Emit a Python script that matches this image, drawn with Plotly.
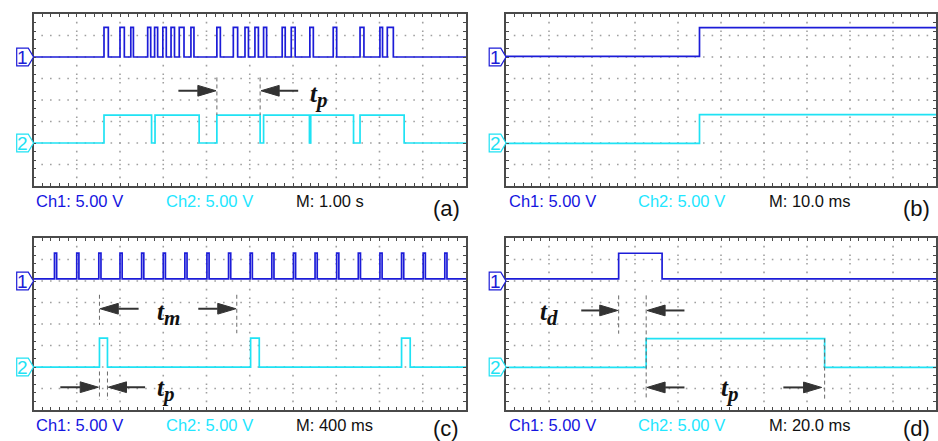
import numpy as np
import plotly.graph_objects as go

# ---------------- data (screen divisions: time 0..10, vertical 0..8) ----------------
A_CH1_PULSES = [(1.63, 1.73), (2.00, 2.10), (2.25, 2.31), (2.64, 2.71), (2.80, 2.87),
                (2.99, 3.07), (3.18, 3.26), (3.37, 3.48), (3.64, 3.71), (4.24, 4.32),
                (4.62, 4.72), (4.89, 4.97), (5.12, 5.20), (5.32, 5.39), (5.75, 5.82),
                (5.96, 6.05), (6.39, 6.47), (6.93, 7.01), (7.55, 7.64), (8.01, 8.07),
                (8.18, 8.32)]
A_CH2_PULSES = [(1.63, 2.73), (2.81, 3.83), (4.24, 5.24), (5.32, 6.38), (6.41, 7.40),
                (7.55, 8.57)]
B_CH1_PULSES = [(4.50, 10.0)]
B_CH2_PULSES = [(4.50, 10.0)]
C_CH1_PULSES = [(0.485, 0.535), (1.00, 1.05), (1.51, 1.56), (2.00, 2.05), (2.50, 2.55),
                (3.00, 3.05), (3.50, 3.55), (4.01, 4.06), (4.51, 4.56), (5.01, 5.06),
                (5.51, 5.56), (6.01, 6.06), (6.51, 6.56), (7.01, 7.06), (7.51, 7.56),
                (8.01, 8.06), (8.51, 8.56), (9.01, 9.06), (9.51, 9.56)]
C_CH2_PULSES = [(1.525, 1.71), (5.02, 5.22), (8.51, 8.71)]
D_CH1_PULSES = [(2.62, 3.63)]
D_CH2_PULSES = [(3.26, 7.41)]

CH1_LOW = [6.00, 6.03, 6.10, 6.10]
CH1_HIGH = [7.38, 7.37, 7.30, 7.29]
CH2_LOW = [2.00, 1.98, 1.99, 1.98]
CH2_HIGH = [3.30, 3.32, 3.34, 3.32]

PANEL_TAGS = ["(a)", "(b)", "(c)", "(d)"]
CH1_TEXT = "Ch1: 5.00 V"
CH2_TEXT = "Ch2: 5.00 V"
TIMEBASE = ["M: 1.00 s", "M: 10.0 ms", "M: 400 ms", "M: 20.0 ms"]

# ---------------- layout geometry (pixels) ----------------
W, H = 938, 441
COLS = [(33.5, 466.0), (506.0, 936.0)]
ROWS = [(14.0, 186.0), (238.0, 410.0)]
PANELS = [(0, 0), (1, 0), (0, 1), (1, 1)]  # (col,row)

BLUE = "#1c1cd8"
CYAN = "#1fe2f4"
BLUE_TXT = "#1515e0"
CYAN_TXT = "#22e6ff"
FRAME = "#4a4a4a"


def px(x):
    return x / W


def py(y):
    return 1 - y / H


def step(pulses, low, high):
    xs, ys = [0.0], [low]
    for r, f in pulses:
        if f >= 10:
            xs += [r, r, 10.0]
            ys += [low, high, high]
            return xs, ys
        xs += [r, r, f, f]
        ys += [low, high, high, low]
    xs.append(10.0)
    ys.append(low)
    return xs, ys


fig = go.Figure()
shapes = []
annotations = []

CH1_ALL = [A_CH1_PULSES, B_CH1_PULSES, C_CH1_PULSES, D_CH1_PULSES]
CH2_ALL = [A_CH2_PULSES, B_CH2_PULSES, C_CH2_PULSES, D_CH2_PULSES]

# grid dots
gx, gy = [], []
for v in range(1, 10):
    for yy in np.arange(0.4, 8.0, 0.4):
        gx.append(v)
        gy.append(round(yy, 3))
for hz in range(1, 8):
    for xx in np.arange(0.2, 10.0, 0.2):
        gx.append(round(xx, 3))
        gy.append(hz)

for i, (c, r) in enumerate(PANELS):
    n = "" if i == 0 else str(i + 1)
    xa, ya = "x" + n, "y" + n
    x0p, x1p = COLS[c]
    y0p, y1p = ROWS[r]
    fig.update_layout({
        "xaxis" + n: dict(domain=[px(x0p), px(x1p)], range=[0, 10], anchor=ya,
                          showgrid=False, zeroline=False, showticklabels=False,
                          showline=True, mirror="ticks", linecolor=FRAME, linewidth=1.5,
                          ticks="inside", dtick=0.2, tick0=0, ticklen=3, tickwidth=1,
                          tickcolor=FRAME),
        "yaxis" + n: dict(domain=[py(y1p), py(y0p)], range=[0, 8], anchor=xa,
                          showgrid=False, zeroline=False, showticklabels=False,
                          showline=True, mirror="ticks", linecolor=FRAME, linewidth=1.5,
                          ticks="inside", dtick=0.4, tick0=0, ticklen=3, tickwidth=1,
                          tickcolor=FRAME),
    })
    fig.add_trace(go.Scatter(x=gx, y=gy, mode="markers", xaxis=xa, yaxis=ya,
                             marker=dict(size=1.6, color="#a0a0a0", symbol="square"),
                             hoverinfo="skip", showlegend=False))
    x1, y1 = step(CH1_ALL[i], CH1_LOW[i], CH1_HIGH[i])
    x2, y2 = step(CH2_ALL[i], CH2_LOW[i], CH2_HIGH[i])
    fig.add_trace(go.Scatter(x=x1, y=y1, mode="lines", xaxis=xa, yaxis=ya,
                             line=dict(color=BLUE, width=1.7), showlegend=False))
    fig.add_trace(go.Scatter(x=x2, y=y2, mode="lines", xaxis=xa, yaxis=ya,
                             line=dict(color=CYAN, width=1.7), showlegend=False))

    # channel markers
    for lvl, col, num in [(6.0, BLUE, "1"), (2.0, CYAN, "2")]:
        yb = y0p + (8 - lvl) / 8 * (y1p - y0p)
        L, M, T = x0p - 16.8, x0p - 5.2, x0p
        path = (f"M {px(L)} {py(yb-8.8)} L {px(M)} {py(yb-8.8)} L {px(T)} {py(yb)} "
                f"L {px(M)} {py(yb+8.8)} L {px(L)} {py(yb+8.8)} Z")
        shapes.append(dict(type="path", xref="paper", yref="paper", path=path,
                           line=dict(color=col, width=1.2), fillcolor="white"))
        annotations.append(dict(xref="paper", yref="paper", x=px(L + 5.9), y=py(yb + 0.5),
                                text=num, showarrow=False, xanchor="center", yanchor="middle",
                                font=dict(family="Liberation Sans, Arial", size=19, color=col)))

    # bottom labels
    ty = y1p + 14.5
    fnt = "Liberation Sans, Arial"
    annotations.append(dict(xref="paper", yref="paper", x=px(x0p + 0.5), y=py(ty), text=CH1_TEXT,
                            showarrow=False, xanchor="left", yanchor="middle",
                            font=dict(family=fnt, size=16.5, color=BLUE_TXT)))
    annotations.append(dict(xref="paper", yref="paper", x=px(x0p + 130), y=py(ty), text=CH2_TEXT,
                            showarrow=False, xanchor="left", yanchor="middle",
                            font=dict(family=fnt, size=16.5, color=CYAN_TXT)))
    annotations.append(dict(xref="paper", yref="paper", x=px(x0p + 260.5), y=py(ty), text=TIMEBASE[i],
                            showarrow=False, xanchor="left", yanchor="middle",
                            font=dict(family=fnt, size=16.5, color="#111111")))
    annotations.append(dict(xref="paper", yref="paper", x=px(x1p - 20), y=py(min(ty + 8, 428.5)),
                            text=PANEL_TAGS[i],
                            showarrow=False, xanchor="center", yanchor="middle",
                            font=dict(family=fnt, size=22, color="#111111")))

# ---------------- measurement markers ----------------
DASH = dict(color="#6a6a6a", width=1, dash="4px,3px")


def vdash(i, x, ya_, yb_):
    n = "" if i == 0 else str(i + 1)
    shapes.append(dict(type="line", xref="x" + n, yref="y" + n, x0=x, x1=x, y0=ya_, y1=yb_, line=DASH))


def arrow(i, xt, xh, y):
    n = "" if i == 0 else str(i + 1)
    s = 1 if xh > xt else -1
    hl, hh = 0.42, 0.25
    base = xh - s * hl
    shapes.append(dict(type="line", xref="x" + n, yref="y" + n, x0=xt, x1=base, y0=y, y1=y,
                       line=dict(color="#333333", width=2)))
    shapes.append(dict(type="path", xref="x" + n, yref="y" + n,
                       path=f"M {xh} {y} L {base} {y+hh} L {base} {y-hh} Z",
                       fillcolor="#333333", line=dict(color="#333333", width=1)))


def label(i, x, y, main, sub):
    n = "" if i == 0 else str(i + 1)
    annotations.append(dict(xref="x" + n, yref="y" + n, x=x, y=y, showarrow=False,
                            text=(f"<b><i>{main}</i></b><sub><span style='font-size:21px'>"
                                  f"<b><i>{sub}</i></b></span></sub>"),
                            xanchor="center", yanchor="middle",
                            font=dict(family="Liberation Serif, Times New Roman", size=25,
                                      color="#111111")))


# (a)
vdash(0, 4.24, 5.05, 3.30)
vdash(0, 5.24, 5.05, 3.30)
arrow(0, 3.35, 4.22, 4.43)
arrow(0, 6.12, 5.26, 4.43)
label(0, 6.6, 4.2, "t", "p")
# (c)
vdash(2, 1.525, 5.36, 3.96)
vdash(2, 4.70, 5.36, 3.57)
arrow(2, 2.43, 1.54, 4.71)
arrow(2, 3.81, 4.68, 4.71)
label(2, 3.12, 4.45, "t", "m")
vdash(2, 1.525, 1.79, 0.47)
vdash(2, 1.71, 1.79, 0.47)
arrow(2, 0.62, 1.50, 1.06)
arrow(2, 2.58, 1.73, 1.06)
label(2, 3.06, 0.93, "t", "p")
# (d)
vdash(3, 2.62, 5.33, 3.55)
vdash(3, 3.26, 5.33, 0.46)
vdash(3, 7.41, 3.32, 0.46)
arrow(3, 1.75, 2.60, 4.63)
arrow(3, 4.15, 3.28, 4.63)
label(3, 1.0, 4.47, "t", "d")
arrow(3, 4.15, 3.28, 1.05)
arrow(3, 6.45, 7.34, 1.05)
label(3, 5.2, 0.93, "t", "p")

fig.update_layout(width=W, height=H, margin=dict(l=0, r=0, t=0, b=0),
                  paper_bgcolor="white", plot_bgcolor="white",
                  shapes=shapes, annotations=annotations, showlegend=False)
fig.write_html("out.html")
